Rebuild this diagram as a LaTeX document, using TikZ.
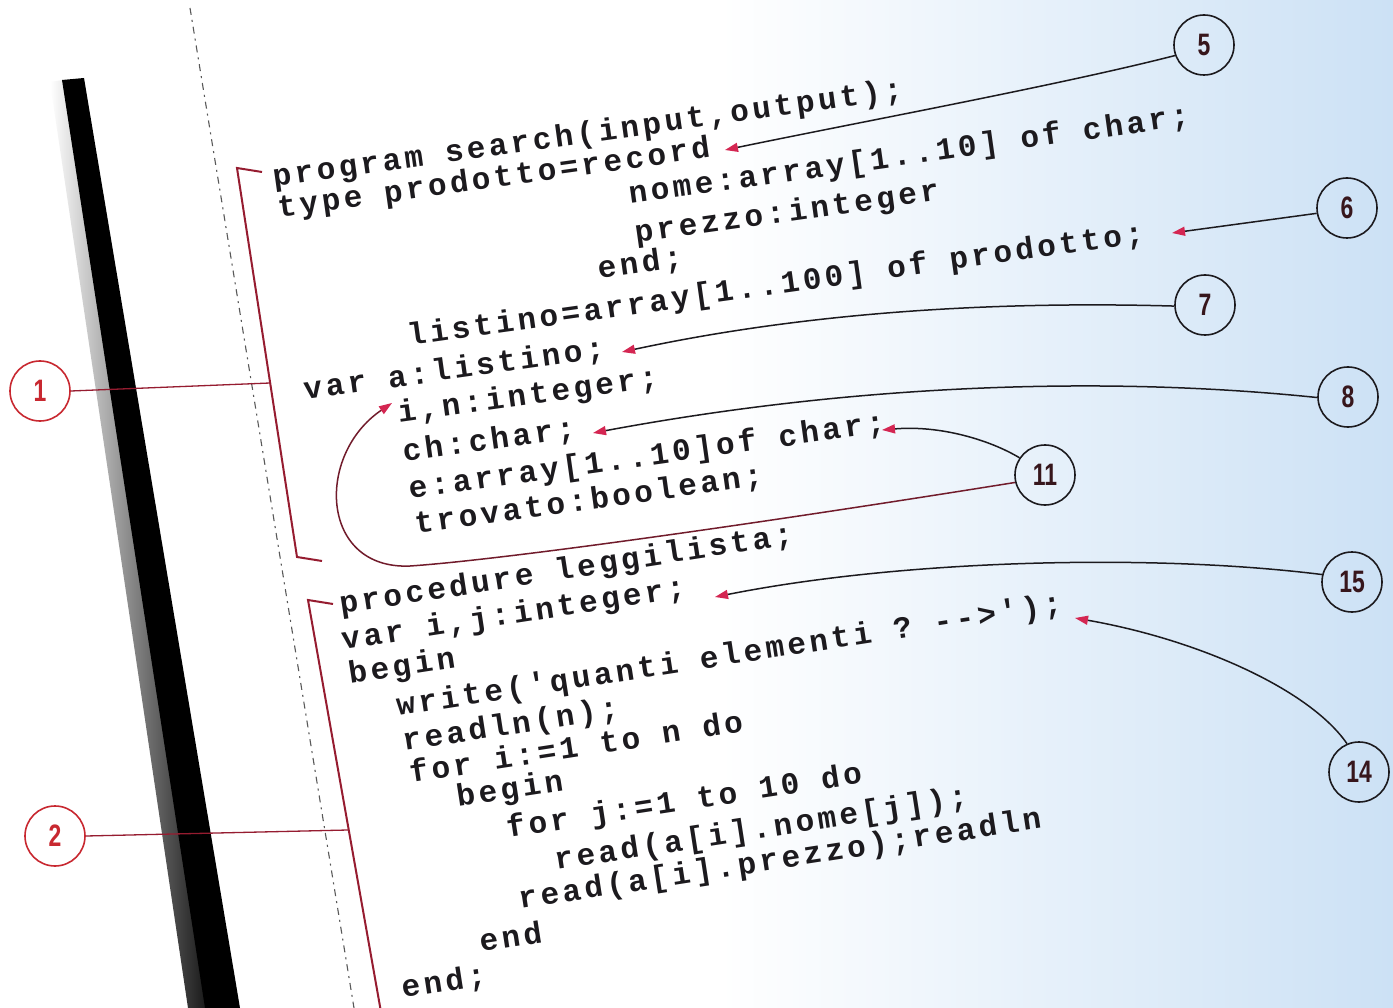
\documentclass[tikz,border=0pt]{standalone}
\usepackage{fontspec}
\usetikzlibrary{arrows.meta}
\newfontfamily\codefont[LetterSpace=11.5]{Liberation Mono}
\newfontfamily\numfont[FakeStretch=0.74]{Liberation Sans}
\definecolor{ink}{RGB}{28,26,30}
\definecolor{tipred}{RGB}{212,38,82}
\definecolor{brk}{RGB}{150,28,48}
\definecolor{cred}{RGB}{200,40,48}
\definecolor{numdark}{RGB}{55,22,28}
\definecolor{bgblue}{RGB}{204,225,245}
\frenchspacing
\begin{document}
\begin{tikzpicture}[x=1pt,y=-1pt,
  codebase/.style={anchor=base west, inner sep=0pt, text=ink,
    font=\codefont\bfseries\fontsize{31}{36}\selectfont},
  code/.style={codebase, rotate=8},
  codelow/.style={codebase, rotate=8.8},
  callout/.style={circle, draw=ink, line width=1.6pt, minimum size=60pt, inner sep=0pt,
    text=numdark, font=\numfont\bfseries\fontsize{31}{31}\selectfont},
  redcallout/.style={callout, draw=cred, text=cred},
  link/.style={draw=ink, line width=1.5pt, -{Triangle[length=13pt,width=9pt,color=tipred]}},
  bracketline/.style={draw=brk, line width=2pt},
  redlink/.style={draw=brk, line width=1.3pt}]
\useasboundingbox (0,0) rectangle (1393,1008);
\fill[white] (0,0) rectangle (1393,1008);
\shade[left color=white, right color=bgblue] (720,0) rectangle (1393,1008);
% binding shadow strip
\shade[left color=white, right color=black!90] (50,82) -- (63,80) -- (206,1008) -- (188,1008) -- cycle;
\fill[black] (62,80) -- (84,78) -- (240,1008) -- (205,1008) -- cycle;
% dashed margin line
\draw[gray!70!black, line width=1.1pt, dash pattern=on 7pt off 5pt on 2pt off 5pt] (190,8) -- (354,1008);
% code lines
\node[code] (l1)  at (274,187) {program search(input,output);};
\node[code] (l2)  at (279,218) {type prodotto=record};
\node[code] (l3)  at (630,204) {nome:array[1..10] of char;};
\node[code] (l4)  at (636,243) {prezzo:integer};
\node[code] (l5)  at (599,279) {end;};
\node[code] (l6)  at (409,346) {listino=array[1..100] of prodotto;};
\node[code] (l7)  at (305,400) {var a:listino;};
\node[code] (l8)  at (399,423) {i,n:integer;};
\node[code] (l9)  at (404,462) {ch:char;};
\node[code] (l10) at (410,499) {e:array[1..10]of char;};
\node[code] (l11) at (416,534) {trovato:boolean;};
\node[codelow] (l12) at (341,614) {procedure leggilista;};
\node[codelow] (l13) at (343,650) {var i,j:integer;};
\node[codelow] (l14) at (350,684) {begin};
\node[codelow] (l15) at (398,716) {write('quanti elementi ? -->');};
\node[codelow] (l16) at (404,751) {readln(n);};
\node[codelow] (l17) at (411,783) {for i:=1 to n do};
\node[codelow] (l18) at (458,807) {begin};
\node[codelow] (l19) at (508,838) {for j:=1 to 10 do};
\node[codelow] (l20) at (556,870) {read(a[i].nome[j]);};
\node[codelow] (l21) at (520,909) {read(a[i].prezzo);readln};
\node[codelow] (l22) at (481,952) {end};
\node[codelow] (l23) at (403,998) {end;};
% brackets
\coordinate (b1top) at (237,168);
\coordinate (b1bot) at (297,557);
\coordinate (b1) at (270,383);
\coordinate (b2top) at (308,600);
\coordinate (b2bot) at (381,1012);
\coordinate (b2) at (348,830);
\draw[bracketline] ([xshift=25pt,yshift=-4pt]b1top) -- (b1top) -- (b1bot) -- ([xshift=25pt,yshift=-4pt]b1bot);
\draw[bracketline] ([xshift=25pt,yshift=-4pt]b2top) -- (b2top) -- (b2bot);
% callouts
\node[callout] (c5)  at (1204,45)  {5};
\node[callout] (c6)  at (1347,208) {6};
\node[callout] (c7)  at (1205,305) {7};
\node[callout] (c8)  at (1348,397) {8};
\node[callout] (c11) at (1045,475) {11};
\node[callout] (c15) at (1352,582) {15};
\node[callout] (c14) at (1359,772) {14};
\node[redcallout] (c1) at (40,391) {1};
\node[redcallout] (c2) at (55,836) {2};
% targets
\coordinate (t5) at (725,150);
\coordinate (t6) at (1172,233);
\coordinate (t7) at (622,352);
\coordinate (t8) at (593,433);
\coordinate (t11a) at (882,430);
\coordinate (t11b) at (392,403);
\coordinate (t15) at (715,597);
\coordinate (t14) at (1075,618);
% connectors
\draw[link] (c5.200) .. controls (1060,85) and (860,122) .. (t5);
\draw[link] (c6.190) -- (t6);
\draw[link] (c7.182) .. controls (960,300) and (780,318) .. (t7);
\draw[link] (c8.181) .. controls (1100,375) and (850,385) .. (t8);
\draw[link] (c11.146) .. controls (990,440) and (940,425) .. (t11a);
\draw[link, draw=brk!70!ink] (c11.194) .. controls (750,525) and (500,560) .. (410,566) .. controls (320,570) and (315,455) .. (t11b);
\draw[link] (c15.166) .. controls (1150,553) and (900,560) .. (t15);
\draw[link] (c14.113) .. controls (1310,690) and (1200,640) .. (t14);
\draw[redlink] (c1.east) -- (b1);
\draw[redlink] (c2.east) -- (b2);
\end{tikzpicture}
\end{document}
